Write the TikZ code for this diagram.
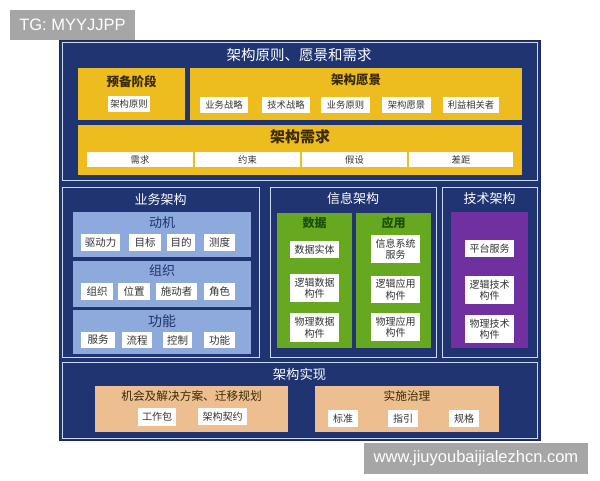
\documentclass[tikz,border=0pt]{standalone}
\usepackage{fontspec}
\setmainfont{Noto Sans CJK SC}
\newfontfamily\latinfont{Liberation Sans}
\definecolor{navy}{HTML}{1F3470}
\definecolor{edgec}{HTML}{C9DAF2}
\definecolor{gold}{HTML}{EDBD1F}
\definecolor{lblue}{HTML}{8EA9DB}
\definecolor{grn}{HTML}{66A81F}
\definecolor{purp}{HTML}{7030A0}
\definecolor{tanc}{HTML}{EDBF90}
\definecolor{wmc}{HTML}{A6A6A6}
\definecolor{darkt}{HTML}{3A2A05}
\definecolor{greent}{HTML}{1E4D0B}
\definecolor{boxt}{HTML}{333333}
\tikzset{
  blk/.style={inner sep=0pt,outer sep=0pt},
  navybox/.style={blk,fill=navy,draw=edgec,line width=0.9pt},
  goldbox/.style={blk,fill=gold},
  lbbox/.style={blk,fill=lblue},
  grbox/.style={blk,fill=grn},
  ppbox/.style={blk,fill=purp},
  tanbox/.style={blk,fill=tanc},
  wb/.style={blk,fill=white,text=boxt,font=\fontsize{10}{11.5}\selectfont,align=center},
  wbs/.style={wb,font=\fontsize{9.3}{10.5}\selectfont},
  wbl/.style={wb,font=\fontsize{10.5}{12}\selectfont},
  wtitle/.style={text=white,font=\fontsize{13}{15}\selectfont},
  gtitle/.style={text=darkt,font=\bfseries\fontsize{12.5}{14}\selectfont},
  btitle/.style={text=navy,font=\fontsize{13}{15}\selectfont},
  grtitle/.style={text=greent,font=\bfseries\fontsize{12}{14}\selectfont},
  ttitle/.style={text=darkt,font=\fontsize{11.7}{13}\selectfont},
  wm/.style={blk,fill=wmc,text=white,font=\latinfont\fontsize{16.5}{18}\selectfont},
}
\begin{document}
\begin{tikzpicture}[x=1pt,y=-1pt]
\useasboundingbox (0,0) rectangle (600,480);
\fill[white] (0,0) rectangle (600,480);
% watermark TG
\node[wm,minimum width=125,minimum height=30] (tg) at (72.5,25) {TG: MYYJJPP};
% outer
\node[blk,fill=navy,draw=navy!80!black,line width=0.6pt,minimum width=481,minimum height=400] (outer) at (299.5,240) {};
% ---- top section
\node[navybox,minimum width=475,minimum height=138] (top) at (299.5,111) {};
\node[wtitle,font=\fontsize{14.5}{16}\selectfont] (toptitle) at (299,55) {架构原则、愿景和需求};
\node[goldbox,minimum width=107,minimum height=52] (prep) at (131.5,94) {};
\node[gtitle] (preptitle) at (131.5,82) {预备阶段};
\node[wbs,minimum width=42,minimum height=16] (p1) at (129,104) {架构原则};
\node[goldbox,minimum width=332,minimum height=52] (vis) at (356,94) {};
\node[gtitle] (vistitle) at (356,80) {架构愿景};
\node[wbs,minimum width=48,minimum height=16] (v1) at (224,105) {业务战略};
\node[wbs,minimum width=48,minimum height=16] (v2) at (286,105) {技术战略};
\node[wbs,minimum width=49,minimum height=16] (v3) at (345.5,105) {业务原则};
\node[wbs,minimum width=49,minimum height=16] (v4) at (406.5,105) {架构愿景};
\node[wbs,minimum width=56,minimum height=16] (v5) at (471,105) {利益相关者};
\node[goldbox,minimum width=444,minimum height=50] (req) at (300,150) {};
\node[gtitle,font=\bfseries\fontsize{15}{17}\selectfont] (reqtitle) at (300,137) {架构需求};
\node[wbs,minimum width=106,minimum height=15] (r1) at (140,159.5) {需求};
\node[wbs,minimum width=105,minimum height=15] (r2) at (247.5,159.5) {约束};
\node[wbs,minimum width=105,minimum height=15] (r3) at (354.5,159.5) {假设};
\node[wbs,minimum width=104,minimum height=15] (r4) at (461,159.5) {差距};
% ---- business architecture
\node[navybox,minimum width=197,minimum height=170] (biz) at (160.5,272) {};
\node[wtitle] (biztitle) at (160.5,200) {业务架构};
\node[lbbox,minimum width=178,minimum height=45] (mot) at (162,234.5) {};
\node[btitle] (mottitle) at (162,223) {动机};
\node[wbl,minimum width=39,minimum height=17] (m1) at (100.5,242.5) {驱动力};
\node[wbl,minimum width=32,minimum height=17] (m2) at (145,242.5) {目标};
\node[wbl,minimum width=28,minimum height=17] (m3) at (181,242.5) {目的};
\node[wbl,minimum width=31,minimum height=17] (m4) at (219.5,242.5) {测度};
\node[lbbox,minimum width=178,minimum height=46] (org) at (162,284) {};
\node[btitle] (orgtitle) at (162,271) {组织};
\node[wbl,minimum width=32,minimum height=17] (o1) at (97,291.5) {组织};
\node[wbl,minimum width=32,minimum height=17] (o2) at (134,291.5) {位置};
\node[wbl,minimum width=41,minimum height=17] (o3) at (176.5,291.5) {施动者};
\node[wbl,minimum width=31,minimum height=17] (o4) at (219.5,291.5) {角色};
\node[lbbox,minimum width=178,minimum height=44] (fun) at (162,332) {};
\node[btitle,font=\fontsize{14}{16}\selectfont] (funtitle) at (162,321) {功能};
\node[wbl,minimum width=34,minimum height=16] (f1) at (98,340) {服务};
\node[wbl,minimum width=30,minimum height=16] (f2) at (137,340) {流程};
\node[wbl,minimum width=29,minimum height=16] (f3) at (177.5,340) {控制};
\node[wbl,minimum width=31,minimum height=16] (f4) at (219.5,340) {功能};
% ---- information architecture
\node[navybox,minimum width=166,minimum height=170] (info) at (353,272) {};
\node[wtitle] (infotitle) at (353,199) {信息架构};
\node[grbox,minimum width=75,minimum height=135] (data) at (314.5,280.5) {};
\node[grtitle] (datatitle) at (314.5,223) {数据};
\node[wb,minimum width=49,minimum height=17] (d1) at (314.5,249.5) {数据实体};
\node[wb,minimum width=49,minimum height=28] (d2) at (314.5,288) {逻辑数据\\构件};
\node[wb,minimum width=49,minimum height=29] (d3) at (314.5,327.5) {物理数据\\构件};
\node[grbox,minimum width=75,minimum height=135] (app) at (393.5,280.5) {};
\node[grtitle] (apptitle) at (393.5,223) {应用};
\node[wb,minimum width=49,minimum height=28] (a1) at (395.5,249) {信息系统\\服务};
\node[wb,minimum width=49,minimum height=27] (a2) at (395.5,289.5) {逻辑应用\\构件};
\node[wb,minimum width=49,minimum height=28] (a3) at (395.5,327) {物理应用\\构件};
% ---- technology architecture
\node[navybox,minimum width=95,minimum height=170] (tech) at (489.5,272) {};
\node[wtitle] (techtitle) at (489.5,199) {技术架构};
\node[ppbox,minimum width=77,minimum height=136] (tp) at (489.5,280) {};
\node[wb,minimum width=49,minimum height=17] (t1) at (489.5,248.5) {平台服务};
\node[wb,minimum width=49,minimum height=28] (t2) at (489.5,290) {逻辑技术\\构件};
\node[wb,minimum width=49,minimum height=28] (t3) at (489.5,329) {物理技术\\构件};
% ---- realization
\node[navybox,minimum width=475,minimum height=76] (impl) at (299.5,400) {};
\node[wtitle,font=\fontsize{13.3}{15}\selectfont] (impltitle) at (299.5,374) {架构实现};
\node[tanbox,minimum width=193,minimum height=46] (opp) at (191.5,409) {};
\node[ttitle] (opptitle) at (191.5,396) {机会及解决方案、迁移规划};
\node[wb,minimum width=38,minimum height=18] (op1) at (157,417) {工作包};
\node[wb,minimum width=49,minimum height=17] (op2) at (222.5,416.5) {架构契约};
\node[tanbox,minimum width=184,minimum height=46] (gov) at (407,409) {};
\node[ttitle] (govtitle) at (407,396) {实施治理};
\node[wb,minimum width=30,minimum height=17] (g1) at (343,418.5) {标准};
\node[wb,minimum width=30,minimum height=17] (g2) at (403,418.5) {指引};
\node[wb,minimum width=30,minimum height=17] (g3) at (464,418.5) {规格};
% watermark bottom
\node[wm,minimum width=224,minimum height=31] (www) at (476,458.5) {www.jiuyoubaijialezhcn.com};
\end{tikzpicture}
\end{document}
